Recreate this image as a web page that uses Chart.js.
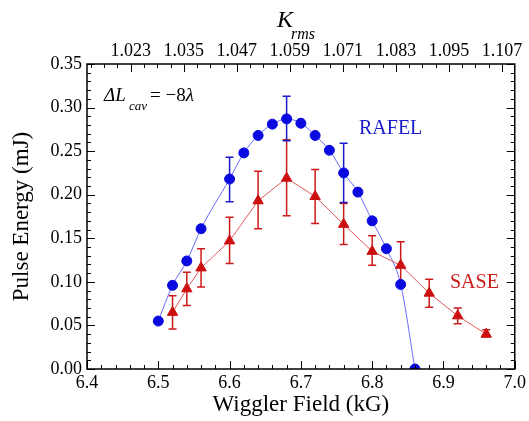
<!DOCTYPE html>
<html>
<head>
<meta charset="utf-8">
<script src="https://cdn.jsdelivr.net/npm/chart.js@4/dist/chart.umd.min.js"></script>
<style>
  html, body { margin: 0; padding: 0; background: #fff; }
  #wrap { width: 529px; height: 421px; }
</style>
</head>
<body>
<div id="wrap"><canvas id="pulseChart" width="529" height="421"></canvas></div>
<script>
// RAFEL (blue circles)
const rafelField = [6.50, 6.52, 6.54, 6.56, 6.60, 6.62, 6.64, 6.66, 6.68, 6.70, 6.72, 6.74, 6.76, 6.78, 6.80, 6.82, 6.84, 6.86];
const rafelEnergy = [0.055, 0.096, 0.124, 0.161, 0.218, 0.248, 0.268, 0.281, 0.287, 0.282, 0.268, 0.251, 0.225, 0.203, 0.170, 0.138, 0.097, 0.0];
const rafelErrHi = [null, null, null, null, 0.243, null, null, null, 0.313, null, null, null, 0.259, null, null, null, null, null];
const rafelErrLo = [null, null, null, null, 0.192, null, null, null, 0.262, null, null, null, 0.191, null, null, null, null, null];

// SASE (red triangles)
const saseField = [6.52, 6.54, 6.56, 6.60, 6.64, 6.68, 6.72, 6.76, 6.80, 6.84, 6.88, 6.92, 6.96];
const saseEnergy = [0.065, 0.092, 0.116, 0.147, 0.193, 0.219, 0.198, 0.166, 0.135, 0.119, 0.087, 0.061, 0.040];
const saseErrHi = [0.084, 0.111, 0.138, 0.174, 0.227, 0.263, 0.229, 0.190, 0.153, 0.146, 0.103, 0.070, 0.045];
const saseErrLo = [0.046, 0.073, 0.094, 0.121, 0.161, 0.176, 0.167, 0.143, 0.119, 0.094, 0.071, 0.052, 0.037];

// tick labels
const fieldTicks = ['6.4', '6.5', '6.6', '6.7', '6.8', '6.9', '7.0'];
const energyTicks = ['0.00', '0.05', '0.10', '0.15', '0.20', '0.25', '0.30', '0.35'];
const kTicks = ['1.023', '1.035', '1.047', '1.059', '1.071', '1.083', '1.095', '1.107'];

const serif = "'Liberation Serif', 'DejaVu Serif', serif";

function subdivide(labels, parts, lo, hi) {
  // major ticks plus minor ticks in between (and beyond ends up to lo/hi)
  const vals = labels.map(Number);
  const step = (vals[1] - vals[0]) / parts;
  const out = [];
  let v = vals[0];
  while (v - step >= lo - 1e-9) v -= step;
  for (; v <= hi + 1e-9; v += step) out.push(Math.round(v * 100000) / 100000);
  return out;
}
function isMajor(v, labels) {
  return labels.some(l => Math.abs(Number(l) - v) < 1e-6);
}

const kMin = 1.0131, kMax = 1.1099;

const innerTicks = {
  id: 'innerTicks',
  beforeDatasetsDraw(chart) {
    // error bars
    const { ctx, scales } = chart;
    const draw = (xs, hi, lo, color) => {
      ctx.save();
      ctx.strokeStyle = color;
      ctx.lineWidth = 1.5;
      xs.forEach((x, i) => {
        if (hi[i] == null) return;
        const px = scales.x.getPixelForValue(x);
        const y1 = scales.y.getPixelForValue(hi[i]);
        const y2 = scales.y.getPixelForValue(lo[i]);
        ctx.beginPath();
        ctx.moveTo(px, y1); ctx.lineTo(px, y2);
        ctx.moveTo(px - 4, y1); ctx.lineTo(px + 4, y1);
        ctx.moveTo(px - 4, y2); ctx.lineTo(px + 4, y2);
        ctx.stroke();
      });
      ctx.restore();
    };
    draw(saseField, saseErrHi, saseErrLo, '#cc1a1a');
    draw(rafelField, rafelErrHi, rafelErrLo, '#1a1acc');
  },
  afterDraw(chart) {
    const { ctx, chartArea: a, scales } = chart;
    ctx.save();
    ctx.strokeStyle = '#000';
    ctx.lineWidth = 1;
    ctx.beginPath();
    scales.x.ticks.forEach(t => {
      const px = Math.round(scales.x.getPixelForValue(t.value)) + 0.5;
      const len = isMajor(t.value, fieldTicks) ? 8 : 4;
      ctx.moveTo(px, a.bottom); ctx.lineTo(px, a.bottom - len);
    });
    scales.xTop.ticks.forEach(t => {
      const px = Math.round(scales.xTop.getPixelForValue(t.value)) + 0.5;
      const len = isMajor(t.value, kTicks) ? 8 : 4;
      ctx.moveTo(px, a.top); ctx.lineTo(px, a.top + len);
    });
    scales.y.ticks.forEach(t => {
      const py = Math.round(scales.y.getPixelForValue(t.value)) + 0.5;
      const len = isMajor(t.value, energyTicks) ? 8 : 4;
      ctx.moveTo(a.left, py); ctx.lineTo(a.left + len, py);
      ctx.moveTo(a.right, py); ctx.lineTo(a.right - len, py);
    });
    ctx.stroke();
    ctx.lineWidth = 1.5;
    ctx.strokeRect(a.left, a.top, a.right - a.left, a.bottom - a.top);

    // top axis title K_rms
    ctx.fillStyle = '#000';
    ctx.textBaseline = 'alphabetic';
    ctx.textAlign = 'left';
    ctx.font = 'italic 24px ' + serif;
    ctx.fillText('K', 277, 27);
    ctx.font = 'italic 16px ' + serif;
    ctx.fillText('rms', 291, 39);

    // cavity detuning label
    ctx.font = 'italic 19px ' + serif;
    ctx.fillText('\u0394L', 104, 101);
    ctx.font = 'italic 13px ' + serif;
    ctx.fillText('cav', 129, 110);
    ctx.font = '19px ' + serif;
    ctx.fillText('= \u22128', 150, 101);
    const w = ctx.measureText('= \u22128').width;
    ctx.font = 'italic 19px ' + serif;
    ctx.fillText('\u03bb', 150 + w, 101);

    // series labels
    ctx.font = '20px ' + serif;
    ctx.fillStyle = '#1a1acc';
    ctx.fillText('RAFEL', 359, 134);
    ctx.fillStyle = '#cc1a1a';
    ctx.fillText('SASE', 450, 288);
    ctx.restore();
  }
};

const tickFont = { family: serif, size: 18 };
const titleFont = { family: serif, size: 23 };

new Chart(document.getElementById('pulseChart'), {
  type: 'scatter',
  data: {
    datasets: [
      {
        label: 'SASE',
        data: saseField.map((x, i) => ({ x: x, y: saseEnergy[i] })),
        showLine: true,
        borderColor: '#e05a5a',
        borderWidth: 1,
        backgroundColor: '#cc1010',
        pointBorderColor: '#cc1010',
        pointStyle: 'triangle',
        pointRadius: 6,
        xAxisID: 'x', yAxisID: 'y'
      },
      {
        label: 'RAFEL',
        data: rafelField.map((x, i) => ({ x: x, y: rafelEnergy[i] })),
        showLine: true,
        cubicInterpolationMode: 'monotone',
        borderColor: '#6a6aff',
        borderWidth: 1,
        backgroundColor: '#0a0ae0',
        pointBorderColor: '#0a0ae0',
        pointStyle: 'circle',
        pointRadius: 5,
        xAxisID: 'x', yAxisID: 'y'
      }
    ]
  },
  options: {
    responsive: false,
    animation: false,
    layout: { padding: { left: 0, right: 11, top: 0, bottom: 0 }, autoPadding: false },
    plugins: { legend: { display: false }, tooltip: { enabled: false } },
    scales: {
      x: {
        type: 'linear', position: 'bottom', min: 6.4, max: 7.0,
        afterBuildTicks: s => { s.ticks = subdivide(fieldTicks, 5, 6.4, 7.0).map(v => ({ value: v })); },
        afterFit: s => { s.height = 52; },
        grid: { display: false, drawTicks: false },
        border: { display: false },
        ticks: {
          autoSkip: false, maxRotation: 0, padding: 3, color: '#000', font: tickFont,
          callback: v => isMajor(v, fieldTicks) ? fieldTicks.find(l => Math.abs(Number(l) - v) < 1e-6) : ''
        },
        title: { display: true, text: 'Wiggler Field (kG)', color: '#000', font: titleFont, padding: { top: 0, bottom: 2 } }
      },
      xTop: {
        type: 'linear', position: 'top', display: true, min: kMin, max: kMax,
        afterBuildTicks: s => { s.ticks = subdivide(kTicks, 4, kMin, kMax).map(v => ({ value: v })); },
        afterFit: s => { s.height = 64; },
        grid: { display: false, drawTicks: false },
        border: { display: false },
        ticks: {
          autoSkip: false, maxRotation: 0, padding: 2, color: '#000', font: tickFont,
          callback: v => isMajor(v, kTicks) ? kTicks.find(l => Math.abs(Number(l) - v) < 1e-6) : ''
        }
      },
      y: {
        type: 'linear', position: 'left', min: 0, max: 0.35,
        afterBuildTicks: s => { s.ticks = subdivide(energyTicks, 5, 0, 0.35).map(v => ({ value: v })); },
        afterFit: s => { s.width = 87; },
        grid: { display: false, drawTicks: false },
        border: { display: false },
        ticks: {
          autoSkip: false, padding: 5, color: '#000', font: tickFont,
          callback: v => isMajor(v, energyTicks) ? energyTicks.find(l => Math.abs(Number(l) - v) < 1e-6) : ''
        },
        title: { display: true, text: 'Pulse Energy (mJ)', color: '#000', font: titleFont, padding: { top: 8, bottom: 0 } }
      }
    }
  },
  plugins: [innerTicks]
});
</script>
</body>
</html>
